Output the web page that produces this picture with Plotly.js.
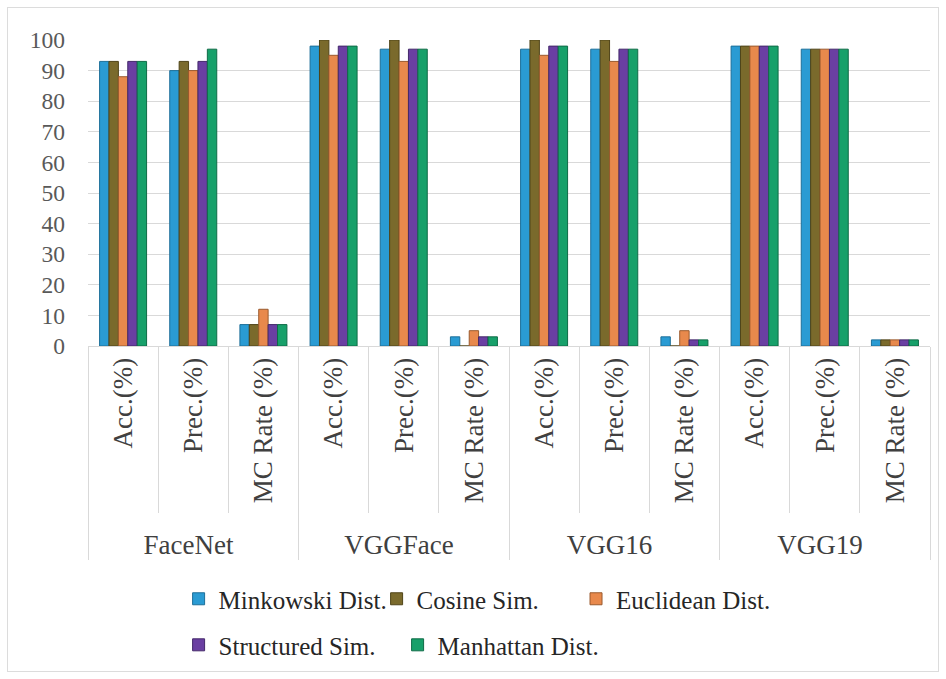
<!DOCTYPE html>
<html>
<head>
<meta charset="utf-8">
<script src="https://cdn.plot.ly/plotly-3.0.1.min.js"></script>
<style>
  html, body { margin: 0; padding: 0; background: #fff; }
  #wrap { position: relative; width: 946px; height: 679px; }
  #chart { width: 946px; height: 679px; }
  #frame { position: absolute; left: 7px; top: 7px; width: 930px; height: 663px; border: 1px solid #dcdcdc; pointer-events: none; }
</style>
</head>
<body>
<div id="wrap">
  <div id="chart"></div>
  <div id="frame"></div>
</div>
<script>
const groups = ['FaceNet','FaceNet','FaceNet','VGGFace','VGGFace','VGGFace','VGG16','VGG16','VGG16','VGG19','VGG19','VGG19'];
const metrics = ['Acc.(%)','Prec.(%)','MC Rate (%)','Acc.(%)','Prec.(%)','MC Rate (%)','Acc.(%)','Prec.(%)','MC Rate (%)','Acc.(%)','Prec.(%)','MC Rate (%)'];

const seriesNames = ['Minkowski Dist.', 'Cosine Sim.', 'Euclidean Dist.', 'Structured Sim.', 'Manhattan Dist.'];
const minkowski  = [93, 90, 7, 98, 97, 3, 97, 97, 3, 98, 97, 2];
const cosine     = [93, 93, 7, 100, 100, 0, 100, 100, 0, 98, 97, 2];
const euclidean  = [88, 90, 12, 95, 93, 5, 95, 93, 5, 98, 97, 2];
const structured = [93, 93, 7, 98, 97, 3, 98, 97, 2, 98, 97, 2];
const manhattan  = [93, 97, 7, 98, 97, 3, 98, 97, 2, 98, 97, 2];

const yTicks = [0,10,20,30,40,50,60,70,80,90,100];

const colors = ['#2a9bd3', '#7a6a2c', '#e8894c', '#6a3fa2', '#17a06a'];
const edges  = ['#1d6f99', '#4f4418', '#9a5a2e', '#43286a', '#0f6b47'];
const legendIds = ['legend', 'legend', 'legend3', 'legend2', 'legend2'];
const allSeries = [minkowski, cosine, euclidean, structured, manhattan];

const serif = '"Liberation Serif", "Times New Roman", serif';

const traces = allSeries.map((vals, i) => ({
  type: 'bar',
  name: seriesNames[i],
  x: [groups, metrics],
  y: vals,
  marker: { color: colors[i], line: { color: edges[i], width: 1 } },
  legend: legendIds[i],
  hoverinfo: 'y+name'
}));

const legendCommon = {
  orientation: 'h',
  xanchor: 'left',
  yanchor: 'top',
  font: { family: serif, size: 25, color: '#262626' },
  bgcolor: 'rgba(0,0,0,0)',
  itemwidth: 30,
  traceorder: 'normal'
};

const layout = {
  width: 946,
  height: 679,
  margin: { l: 88, r: 16, t: 40, b: 332 },
  paper_bgcolor: '#ffffff',
  plot_bgcolor: '#ffffff',
  barmode: 'group',
  bargap: 0.33,
  bargroupgap: 0,
  font: { family: serif, size: 25, color: '#404040' },
  yaxis: {
    range: [0, 100],
    tickvals: yTicks,
    ticktext: yTicks.map(String),
    showgrid: true,
    gridcolor: '#d9d9d9',
    gridwidth: 1,
    zeroline: false,
    showline: false,
    ticks: '',
    ticklabelstandoff: 22,
    tickfont: { family: serif, size: 23.5, color: '#595959' }
  },
  xaxis: {
    type: 'multicategory',
    tickangle: -90,
    tickfont: { family: serif, size: 27, color: '#404040' },
    showline: true,
    linecolor: '#d9d9d9',
    linewidth: 1,
    ticks: 'outside',
    tickson: 'boundaries',
    ticklen: 166,
    tickcolor: '#d9d9d9',
    tickwidth: 1,
    showdividers: true,
    dividercolor: '#d9d9d9',
    dividerwidth: 1,
    showgrid: false,
    automargin: false
  },
  legend: Object.assign({}, legendCommon, { x: 0.1076, y: -0.746, entrywidth: 153 }),
  legend2: Object.assign({}, legendCommon, { x: 0.1076, y: -0.896, entrywidth: 174 }),
  legend3: Object.assign({}, legendCommon, { x: 0.5796, y: -0.746 }),
  showlegend: true
};

Plotly.newPlot('chart', traces, layout, { displayModeBar: false, responsive: false });
</script>
</body>
</html>
